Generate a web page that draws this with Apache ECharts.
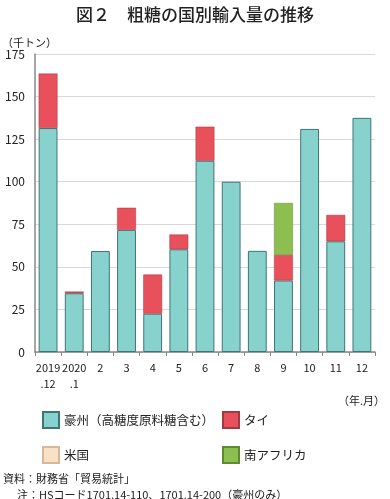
<!DOCTYPE html>
<html><head><meta charset="utf-8">
<script src="https://cdn.jsdelivr.net/npm/echarts@6/dist/echarts.min.js"></script>
<style>html,body{margin:0;padding:0;background:#fff}#c{width:390px;height:499px}</style>
</head><body><div id="c"></div>
<script>
const categories = ['2019\n.12','2020\n.1','2','3','4','5','6','7','8','9','10','11','12'];
const australia = [131.5,34.5,59.3,71.7,22.5,60.3,112.3,100,59.4,42,131,65,137.5];
const thailand  = [32,1,0,13,23,8.7,20,0,0,15,0,15.5,0];
const usa       = [0,0,0,0,0,0,0,0,0,0,0,0,0];
const southAfrica = [0,0,0,0,0,0,0,0,0,30.5,0,0,0];
const yTicks = [0,25,50,75,100,125,150,175];

const font = '"Noto Sans CJK JP", sans-serif';
const chart = echarts.init(document.getElementById('c'));
const names = ['豪州（高糖度原料糖含む）','タイ','米国','南アフリカ'];
const colors = ['#88d2ce','#e8505b','#fbe0c8','#8dbf50'];
const legendPos = [[42,411],[222,411],[42,446],[222,446]];
const nz = arr => arr.map(v => v ? v : '-');
chart.setOption({
  animation:false,
  textStyle:{fontFamily:font},
  title:[
    {text:'図２　粗糖の国別輸入量の推移',left:'center',top:1,textStyle:{fontSize:17,fontWeight:500,color:'#222',fontFamily:font}},
    {text:'（千トン）',left:-3,top:32,textStyle:{fontSize:11,fontWeight:'normal',color:'#222',fontFamily:font}},
    {text:'（年.月）',right:0,top:390,textStyle:{fontSize:11,fontWeight:'normal',color:'#222',fontFamily:font}},
    {text:'資料：財務省「貿易統計」',left:-2,top:468,textStyle:{fontSize:11,fontWeight:'normal',color:'#222',fontFamily:font}},
    {text:'注：HSコード1701.14-110、1701.14-200（豪州のみ）',left:12,top:484,textStyle:{fontSize:11,fontWeight:'normal',color:'#222',fontFamily:font}}
  ],
  legend: names.map((n,i)=>({
    data:[{name:n,icon:'rect'}], left:legendPos[i][0], top:legendPos[i][1], itemWidth:16, itemHeight:16,
    padding:0, itemGap:6, textStyle:{fontSize:12.5,color:'#222',fontFamily:font}, selectedMode:false
  })),
  yAxis:{type:'value',min:yTicks[0],max:yTicks[yTicks.length-1],interval:25,
    axisLine:{show:true,lineStyle:{color:'#888',width:1.5}},
    axisTick:{show:false},
    axisLabel:{fontSize:12,color:'#222',margin:10},
    splitLine:{lineStyle:{color:'#d8d8d8'}}},
  grid:{left:35,right:15,top:54,bottom:147},
  xAxis:{type:'category',data:categories,
    axisLine:{lineStyle:{color:'#888',width:1.5}},
    axisTick:{show:true,length:4,lineStyle:{color:'#888'}},
    axisLabel:{fontSize:11,color:'#222',lineHeight:16,margin:8,interval:0}},
  series:[
    {name:names[0],type:'bar',stack:'a',data:nz(australia),barWidth:'72%',itemStyle:{color:colors[0],borderColor:'#3f7575',borderWidth:1}},
    {name:names[1],type:'bar',stack:'a',data:nz(thailand),itemStyle:{color:colors[1],borderColor:'#a03a40',borderWidth:0.5}},
    {name:names[2],type:'bar',stack:'a',data:nz(usa),itemStyle:{color:colors[2],borderColor:'#d8b898',borderWidth:0.5}},
    {name:names[3],type:'bar',stack:'a',data:nz(southAfrica),itemStyle:{color:colors[3],borderColor:'#5e8a30',borderWidth:0.5}}
  ]
});
</script></body></html>
